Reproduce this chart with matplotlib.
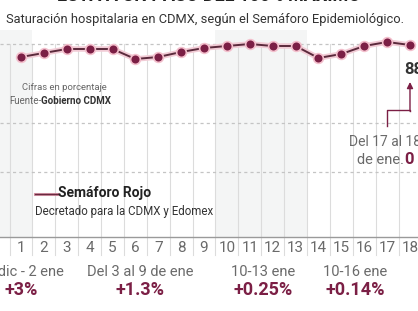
import matplotlib
matplotlib.use("Agg")
import matplotlib.pyplot as plt

# datos
dias = list(range(1, 19))
saturacion = [85.6, 86.4, 87.2, 87.2, 87.2, 85.2, 85.6, 86.6, 87.4,
              87.8, 88.2, 87.8, 87.8, 85.4, 86.2, 87.8, 88.6, 88.0]
periodos = ["27 dic - 2 ene", "Del 3 al 9 de ene", "10-13 ene", "10-16 ene"]
cambios = ["+3%", "+1.3%", "+0.25%", "+0.14%"]
centros = [1.0, 6.2, 11.6, 15.6]
rejilla = [88.2, 72.4, 62.6]

FAM = ["Roboto", "DejaVu Sans"]
plt.rcParams["font.family"] = FAM

granate = "#7b1f45"
gris = "#6a6a6a"

fig = plt.figure(figsize=(4.18, 3.11), dpi=100)
ax = fig.add_axes([0, 74 / 311, 1, 207 / 311])
ax.set_xlim(0.083, 18.35)
ax.set_ylim(49.6, 91.0)
ax.axis("off")


def texto_seguido(x, y, partes, **kw):
    # escribe varios trozos de texto uno tras otro en coordenadas de figura
    fig.canvas.draw()
    r = fig.canvas.get_renderer()
    for s, estilo in partes:
        t = fig.text(x, y, s, **kw, **estilo)
        bb = t.get_window_extent(renderer=r)
        x = x + bb.width / fig.bbox.width


# bandas sombreadas
ax.axvspan(0.083, 1.5, color="#f4f5f5", zorder=0, lw=0)
ax.axvspan(9.5, 13.5, color="#f4f5f5", zorder=0, lw=0)

# lineas verticales
for k in range(0, 19):
    ax.axvline(k + 0.5, ymin=-0.087, ymax=0.932, color="#dcdcdc", lw=0.8,
               zorder=1, clip_on=False)
for g in rejilla:
    ax.axhline(g, color="#c4c4c4", lw=0.9, ls=(0, (2.5, 2.5)), zorder=1)
ax.axhline(49.6, color="#9a9a9a", lw=1.0, zorder=2, clip_on=False)

# serie
ax.plot(dias, saturacion, color="#f2ccd6", lw=4, zorder=3, solid_capstyle="round")
ax.plot(dias, saturacion, color="#5b2a3c", lw=1.4, zorder=4)
ax.plot(dias, saturacion, "o", ms=7, color=granate, mec="#f3bfcc", mew=1.2, zorder=5)

# etiquetas eje x
for d in dias:
    ax.text(d, -0.055, str(d), transform=ax.get_xaxis_transform(), ha="center",
            va="center", fontsize=11, color=gris)

# valor final
ax.text(dias[-1] + 0.15, 83.0, "88", ha="center", va="center", fontsize=12,
        fontweight="bold", color="#333333")
ax.annotate("", xy=(dias[-1], 80.6), xytext=(dias[-1], 74.8),
            arrowprops=dict(arrowstyle="-|>", color=granate, lw=1.0,
                            mutation_scale=9, shrinkA=0, shrinkB=0))
ax.plot([17.0, 17.0, 18.0, 18.0], [71.8, 75.0, 75.0, 74.8], color=granate, lw=1.0)

ax.text(15.35, 68.6, "Del 17 al 18", ha="left", va="center", fontsize=10,
        color=gris)
ax.text(17.72, 65.0, "de ene.", ha="right", va="center", fontsize=10.5, color=gris)
ax.text(17.77, 65.0, "0", ha="left", va="center", fontsize=12, color=granate,
        fontweight="bold")

# notas
fig.text(22 / 418, 1 - 87 / 311, "Cifras en porcentaje", fontsize=6.8,
         color="#666666", va="center")
texto_seguido(9 / 418, 1 - 101 / 311,
              [("Fuente-", dict(color="#666666")),
               ("Gobierno CDMX", dict(color="#333333", fontweight="bold"))],
              fontsize=7, va="center")

# leyenda
fig.lines.append(plt.Line2D([35 / 418, 58 / 418], [1 - 194 / 311, 1 - 194 / 311],
                            color="#d99aab", lw=2.2, transform=fig.transFigure))
fig.lines.append(plt.Line2D([35 / 418, 58 / 418], [1 - 194 / 311, 1 - 194 / 311],
                            color="#6a2a40", lw=1, transform=fig.transFigure))
fig.text(58 / 418, 1 - 193 / 311, "Semáforo Rojo", fontsize=10, color="#222222",
         fontweight="bold", va="center")
fig.text(35 / 418, 1 - 211 / 311, "Decretado para la CDMX y Edomex", fontsize=8.3,
         color="#333333", va="center")

# periodos
for c, p, v in zip(centros, periodos, cambios):
    ax.text(c, -0.17, p, transform=ax.get_xaxis_transform(), ha="center",
            va="center", fontsize=10.5, color=gris)
    ax.text(c, -0.258, v, transform=ax.get_xaxis_transform(), ha="center",
            va="center", fontsize=13, color=granate, fontweight="bold")

# titulos
fig.text(0.5, 1.012, "ESTÁ A UN PASO DEL 100% MÁXIMO", ha="center", va="center",
         fontsize=13, fontweight="bold", color="#222222")
fig.text(0.49, 1 - 19 / 311, "Saturación hospitalaria en CDMX, según el Semáforo Epidemiológico.",
         ha="center", va="center", fontsize=9.3, color="#333333")

fig.savefig("out.png", dpi=100)
